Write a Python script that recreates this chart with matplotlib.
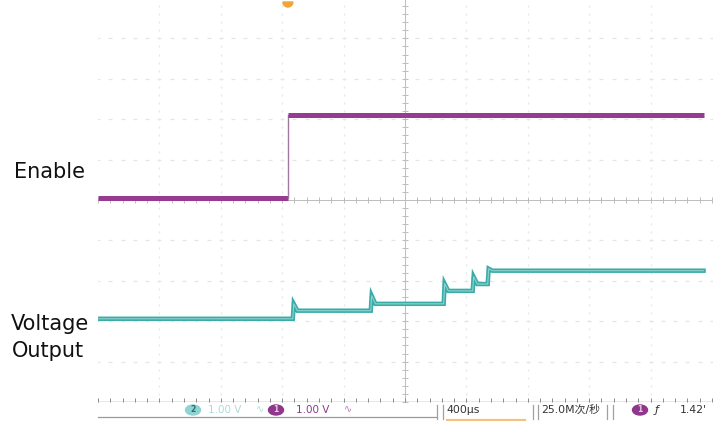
import matplotlib
matplotlib.use("Agg")
import matplotlib.pyplot as plt
from matplotlib.patches import Ellipse, Wedge
import numpy as np

# ---- scope settings ----
us_per_div = 400          # horizontal scale
volts_per_div = 1.00      # both channels
n_div = 10

# ---- channel 1: Enable ----
ch1_offset_div = 5.06
enable_edge_us = 1237
enable_levels = [0.0, 2.04]          # V, before / after the edge

# ---- channel 2: Voltage Output ----
ch2_offset_div = 0.0
vout_edges_us = [1269, 1777, 2252, 2441, 2539]
vout_levels = [2.06, 2.26, 2.43, 2.75, 2.92, 3.25]   # V, settled levels
vout_peaks = [2.43, 2.63, 2.93, 3.10, 3.30]          # V, overshoot after each step
record_end_us = 3945
trigger_us = 1237

W, H = 715, 421
fig = plt.figure(figsize=(W / 100, H / 100), dpi=100)
fig.patch.set_facecolor("white")

def fx(x):
    return x / W

def fy(y):
    return 1 - y / H

left_px, right_px, top_px, bottom_px = 98, 712, -2, 402
ax = fig.add_axes([fx(left_px), fy(bottom_px), (right_px - left_px) / W, (bottom_px - top_px) / H])
ax.set_xlim(0, n_div * us_per_div)
ax.set_ylim(0, n_div)
ax.axis("off")

# ---- graticule ----
grid_c = "#e6e6e6"
minor_x = np.arange(0, n_div * us_per_div + 1, us_per_div / 5)
minor_y = np.arange(0, n_div + 0.001, 0.2)
for k in range(1, n_div):
    if k == 5:
        continue
    ax.plot(minor_x, np.full_like(minor_x, k), ls="none", marker="_", ms=3, mew=0.9, color=grid_c)
    ax.plot(np.full_like(minor_y, k * us_per_div), minor_y, ls="none", marker="|", ms=2, mew=0.9, color=grid_c)

axis_c = "#bdbdbd"
ax.axhline(5, color=axis_c, lw=0.7)
ax.axvline(5 * us_per_div, color=axis_c, lw=0.7)
ax.plot(minor_x, np.full_like(minor_x, 5.0), ls="none", marker="|", ms=4, mew=0.7, color=axis_c)
ax.plot(np.full_like(minor_y, 5 * us_per_div), minor_y, ls="none", marker="_", ms=4, mew=0.7, color=axis_c)
# bottom edge with ticks
ax.axhline(0, color="#8a8a8a", lw=1.0)
ax.plot(minor_x, np.full_like(minor_x, 0.04), ls="none", marker="|", ms=3, mew=0.7, color="#8a8a8a")

# ---- Enable trace ----
en_c = "#993a92"
e_lo = ch1_offset_div + enable_levels[0] / volts_per_div
e_hi = ch1_offset_div + enable_levels[1] / volts_per_div
ax.plot([0, enable_edge_us], [e_lo, e_lo], color=en_c, lw=3.6, solid_capstyle="butt")
ax.plot([enable_edge_us, enable_edge_us], [e_lo, e_hi], color="#a07a9c", lw=1.0)
ax.plot([enable_edge_us, record_end_us], [e_hi, e_hi], color=en_c, lw=3.6, solid_capstyle="butt")

# ---- Voltage Output trace ----
t = [0.0]
v = [vout_levels[0]]
for i, edge in enumerate(vout_edges_us):
    t += [edge, edge + 6, edge + 30]
    v += [vout_levels[i], vout_peaks[i], vout_levels[i + 1]]
t.append(record_end_us)
v.append(vout_levels[-1])
t = np.array(t)
v = ch2_offset_div + np.array(v) / volts_per_div
ax.plot(t, v, color="#3aaca8", lw=3.2, solid_joinstyle="miter")
ax.plot(t, v, color="#8ed2cf", lw=0.8)

# ---- trigger position marker ----
trig_px = left_px + trigger_us / us_per_div * (right_px - left_px) / n_div
fig.patches.append(Wedge((trig_px, H - 2), 5, 180, 360, color="#f1a43a", transform=None))

# ---- channel labels ----
lab_kw = dict(fontsize=15, family="DejaVu Sans", color="#111111", va="center", ha="left")
fig.text(fx(14), fy(172), "Enable", **lab_kw)
fig.text(fx(11), fy(324), "Voltage", **lab_kw)
fig.text(fx(12), fy(351), "Output", **lab_kw)

# ---- status bar ----
fam = ["DejaVu Sans", "Noto Sans CJK SC"]
fig.lines.append(plt.Line2D([fx(98), fx(437)], [fy(417), fy(417)], transform=fig.transFigure,
                            color="#9a9a9a", lw=0.9))
for xb in (437, 443, 533, 538, 607, 613):
    fig.lines.append(plt.Line2D([fx(xb), fx(xb)], [fy(405), fy(419)], transform=fig.transFigure,
                                color="#a0a0a0", lw=0.9))

def badge(x, y, txt, face, tc):
    fig.patches.append(Ellipse((x, H - y), 15, 10, color=face, transform=None))
    fig.text(fx(x), fy(y), txt, fontsize=5.5, color=tc, ha="center", va="center",
             family=fam, fontweight="bold")

badge(193, 410, "2", "#8fd4d2", "#2a6f6d")
fig.text(fx(208), fy(410), "1.00 V", fontsize=7.5, color="#a9dcdb", va="center", family=fam)
fig.text(fx(256), fy(409), "∿", fontsize=7, color="#a9dcdb", va="center", family=fam)
badge(276, 410, "1", "#8e378c", "#e9c9e6")
fig.text(fx(296), fy(410), "1.00 V", fontsize=7.5, color="#8e378c", va="center", family=fam)
fig.text(fx(344), fy(409), "∿", fontsize=7, color="#b27bb0", va="center", family=fam)

fig.text(fx(446), fy(410), "400µs", fontsize=7.8, color="#333333", va="center", family=fam)
fig.lines.append(plt.Line2D([fx(447), fx(525)], [fy(420), fy(420)], transform=fig.transFigure,
                            color="#f3c27a", lw=1.6))
fig.text(fx(541), fy(410), "25.0M次/秒", fontsize=7.8, color="#333333", va="center", family=fam)
badge(640, 410, "1", "#8e378c", "#e9c9e6")
fig.text(fx(655), fy(410), "ƒ", fontsize=8, color="#333333", va="center", family=fam, style="italic")
fig.text(fx(680), fy(410), "1.42'", fontsize=7.8, color="#333333", va="center", family=fam)

fig.savefig("out.png", dpi=100, facecolor="white")
